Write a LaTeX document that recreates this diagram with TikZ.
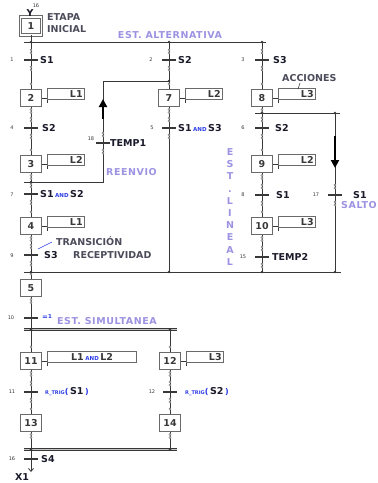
\documentclass[tikz,border=0pt]{standalone}
\usepackage{fontspec}
\setmainfont{DejaVu Sans}
\newfontfamily\lavfont[LetterSpace=6]{DejaVu Sans}
\usetikzlibrary{arrows.meta,calc}
\definecolor{ln}{HTML}{383838}
\definecolor{bx}{HTML}{6A6A6A}
\definecolor{lav}{HTML}{9C92E2}
\definecolor{andb}{HTML}{2E3EE6}
\definecolor{gtxt}{HTML}{4B4B5A}
\definecolor{tx}{HTML}{1A1A2A}
\newcommand\fL{\fontsize{9.5}{11}\selectfont\bfseries}
\newcommand\fS{\fontsize{5}{6}\selectfont}
\newcommand\andw{\,{\fontsize{5.5}{6}\selectfont\bfseries\color{andb}AND}\,}
\newcommand\rtrig[1]{{\fontsize{5}{6}\selectfont\bfseries\color{andb}R\_TRIG}{\color{andb}\fontsize{8}{8}\selectfont(}\,{\fL #1}\,{\color{andb}\fontsize{8}{8}\selectfont)}}
\newcommand\actn[4]{%
  \node[actbox, text width=#3, anchor=south west] (#2) at ($(#1.east)+(5,2)$) {#4};
  \draw[link] (#1.east) -- (#1.east -| #2.west);
  \draw[link] (#2.south west) -- ++(0,2.5);
}
\tikzset{
  stepbox/.style={draw=bx, line width=1.3pt, fill=white, minimum width=21pt, minimum height=17pt, inner sep=0pt, font=\fL, text=ln},
  initbox/.style={stepbox, double=white, double distance=1.6pt, line width=0.9pt, minimum width=21pt, minimum height=18pt},
  actbox/.style={draw=bx, line width=1pt, fill=white, minimum height=11pt, inner ysep=0pt, inner xsep=2pt, align=right, font=\fL, text=ln},
  trbar/.style={fill=ln, draw=none, minimum width=14pt, minimum height=2.4pt, inner sep=0pt},
  link/.style={draw=ln, line width=0.8pt},
  dotc/.style={draw=ln!70, fill=white, line width=0.5pt},
  jdot/.style={fill=ln, draw=none},
  lbl/.style={anchor=west, inner sep=0pt, font=\fL, text=tx},
  tnum/.style={inner sep=0pt, font=\fS, text=ln},
  note/.style={inner sep=0pt, font=\lavfont\fontsize{9.5}{11}\selectfont\bfseries, text=lav},
  gnote/.style={inner sep=0pt, anchor=west, font=\fontsize{9.5}{11}\selectfont\bfseries, text=gtxt},
  bigarrow/.style={line width=2.6pt, draw=black, -{Triangle[length=8pt,width=8pt]}},
  dline/.style={draw=ln, double=gray!45, double distance=1.6pt, line width=0.8pt},
}
\begin{document}
\begin{tikzpicture}[x=1pt,y=-1pt]
\useasboundingbox (0,0) rectangle (378,483);

% ---------- steps
\node[initbox] (s1) at (31,26) {1};
\node[stepbox] (s2) at (31,98) {2};
\node[stepbox] (s3) at (31,164) {3};
\node[stepbox] (s4) at (31,226) {4};
\node[stepbox] (s5) at (31,288) {5};
\node[stepbox] (s7) at (169,98) {7};
\node[stepbox] (s8) at (262,98) {8};
\node[stepbox] (s9) at (262,164) {9};
\node[stepbox] (s10) at (262,226) {10};
\node[stepbox] (s11) at (31,361) {11};
\node[stepbox] (s12) at (170,361) {12};
\node[stepbox] (s13) at (31,423) {13};
\node[stepbox] (s14) at (170,423) {14};

% ---------- transitions
\node[trbar] (t1) at (31,60) {};
\node[trbar] (t2) at (169,60) {};
\node[trbar] (t3) at (262,60) {};
\node[trbar] (t4) at (31,128) {};
\node[trbar] (t5) at (169,128) {};
\node[trbar] (t6) at (262,128) {};
\node[trbar] (t18) at (103,143) {};
\node[trbar] (t7) at (31,194) {};
\node[trbar] (t8) at (262,195) {};
\node[trbar] (t17) at (335,195) {};
\node[trbar] (t9) at (31,255) {};
\node[trbar] (t15) at (262,257) {};
\node[trbar] (t10) at (31,318) {};
\node[trbar] (t11) at (31,392) {};
\node[trbar] (t12) at (170,392) {};
\node[trbar] (t16) at (31,459) {};

% ---------- junction coordinates
\coordinate (a1) at (24,42); \coordinate (a2) at (266,42);
\coordinate (a1m) at (169,42); \coordinate (a1r) at (262,42);
\coordinate (r0) at (24,182); \coordinate (r1) at (103,182);
\coordinate (r2) at (103,81); \coordinate (r3) at (169,81);
\coordinate (d0) at (255,113); \coordinate (d1) at (340,113); \coordinate (d1j) at (335,113);
\coordinate (c0) at (24,272); \coordinate (c1) at (341,272);
\coordinate (cm) at (169,272); \coordinate (cr) at (262,272); \coordinate (cj) at (335,272);
\coordinate (sd0) at (24,329.5); \coordinate (sd1) at (177,329.5); \coordinate (sdr) at (170,329.5);
\coordinate (sc0) at (24,449.5); \coordinate (sc1) at (177,449.5); \coordinate (scr) at (170,449.5);
\coordinate (xend) at (31,472);
\coordinate (ar1a) at (103,119); \coordinate (ar1b) at (103,99);
\coordinate (ar2a) at (335,136); \coordinate (ar2b) at (335,168);

% ---------- links
\draw[link] (s1) -- (t1) -- (s2) -- (t4) -- (s3) -- (t7) -- (s4) -- (t9) -- (s5) -- (t10) -- (s11) -- (t11) -- (s13) -- (t16);
\draw[link] (a1) -- (a2);
\draw[link] (a1m) -- (t2) -- (s7) -- (t5) -- (cm);
\draw[link] (a1r) -- (t3) -- (s8) -- (t6) -- (s9) -- (t8) -- (s10) -- (t15) -- (cr);
\draw[link] (r0) -- (r1) -- (t18) -- (r2) -- (r3);
\draw[link] (d0) -- (d1);
\draw[link] (d1j) -- (t17) -- (cj);
\draw[link] (c0) -- (c1);
\draw[link] (sdr) -- (s12) -- (t12) -- (s14) -- (scr);
\draw[dline] (sd0) -- (sd1);
\draw[dline] (sc0) -- (sc1);
\draw[link, -{Straight Barb[length=3pt,width=5pt]}] (t16) -- (xend);
\draw[bigarrow] (ar1a) -- (ar1b);
\draw[bigarrow] (ar2a) -- (ar2b);

% ---------- small link circles
\foreach \x/\y in {31/60,169/60,262/60,31/128,169/128,262/128,103/143,31/194,262/195,335/195,31/255,262/257,31/392,170/392}
  {\foreach \d in {-10,-7,7,10} \draw[dotc] (\x,\y+\d) circle (1.1);}
\foreach \x/\y in {31/98,31/164,31/226,31/288,169/98,262/98,262/164,262/226,31/361,170/361,31/423,170/423}
  {\draw[dotc] (\x,\y-14) circle (1.1); \draw[dotc] (\x,\y+11.5) circle (1.1); \draw[dotc] (\x,\y+14.5) circle (1.1);}
\foreach \x/\y in {31/42,169/42,262/42,31/182,169/81,262/113,335/113,31/272,169/272,262/272,335/272,31/329.5,170/329.5,31/449.5,170/449.5}
  {\fill[jdot] (\x,\y) circle (1.4);}

% ---------- actions
\actn{s2}{ac2}{33pt}{L1}
\actn{s3}{ac3}{33pt}{L2}
\actn{s4}{ac4}{33pt}{L1}
\actn{s7}{ac7}{33pt}{L2}
\actn{s8}{ac8}{33pt}{L3}
\actn{s9}{ac9}{33pt}{L2}
\actn{s10}{ac10}{33pt}{L3}
\actn{s12}{ac12}{33pt}{L3}
\node[actbox, text width=85pt, align=center, anchor=south west] (ac11) at ($(s11.east)+(5,2)$) {L1\andw L2};
\draw[link] (s11.east) -- (s11.east -| ac11.west);
\draw[link] (ac11.south west) -- ++(0,2.5);

% ---------- transition numbers
\node[tnum] (n1) at (12,60) {1};
\node[tnum] (n2) at (151,60) {2};
\node[tnum] (n3) at (243,60) {3};
\node[tnum] (n4) at (12,128) {4};
\node[tnum] (n5) at (152,128) {5};
\node[tnum] (n6) at (243,128) {6};
\node[tnum] (n18) at (91,139) {18};
\node[tnum] (n7) at (12,195) {7};
\node[tnum] (n8) at (243,195) {8};
\node[tnum] (n17) at (316,195) {17};
\node[tnum] (n9) at (12,256) {9};
\node[tnum] (n15) at (243,257) {15};
\node[tnum] (n10) at (11,318) {10};
\node[tnum] (n11) at (12,392) {11};
\node[tnum] (n12) at (152,392) {12};
\node[tnum] (n16) at (12,459) {16};

% ---------- receptivities
\node[lbl] (l1) at (40,60) {S1};
\node[lbl] (l2) at (178,60) {S2};
\node[lbl] (l3) at (273,60) {S3};
\node[lbl] (l4) at (42,128) {S2};
\node[lbl] (l5) at (178,128) {S1\andw S3};
\node[lbl] (l6) at (275,128) {S2};
\node[lbl] (l18) at (110,143) {TEMP1};
\node[lbl] (l7) at (40,194) {S1\andw S2};
\node[lbl] (l8) at (276,195) {S1};
\node[lbl] (l17) at (353,195) {S1};
\node[lbl] (l9) at (44,255) {S3};
\node[lbl] (l15) at (272,257) {TEMP2};
\node[lbl, text=andb] (l10) at (42,317) {\fontsize{7}{7}\selectfont\bfseries =\raisebox{1pt}{\fontsize{5.5}{6}\selectfont 1}};
\node[lbl] (l11) at (45,392) {\rtrig{S1}};
\node[lbl] (l12) at (185,392) {\rtrig{S2}};
\node[lbl] (l16) at (41,459) {S4};
\node[lbl, anchor=center] (x1) at (22,477) {X1};
\node[lbl, anchor=center] (yin) at (30,13) {Y};
\node[tnum] (n16b) at (36,6) {16};

% ---------- annotations
\node[gnote] (etapa) at (47,17.5) {ETAPA};
\node[gnote] (inicial) at (47,29) {INICIAL};
\node[note] (alt) at (170,35) {EST. ALTERNATIVA};
\node[gnote] (acc) at (282,78) {ACCIONES};
\coordinate (pa1) at (300,83); \coordinate (pa2) at (298,89);
\draw[ln, line width=0.6pt] (pa1) -- (pa2);
\node[note, anchor=west] (reen) at (106,172) {REENVIO};
\node[gnote] (trs) at (56,241) {TRANSICIÓN};
\node[gnote] (rec) at (73,255) {RECEPTIVIDAD};
\coordinate (pt1) at (38,249); \coordinate (pt2) at (52,242);
\draw[andb, line width=0.6pt] (pt1) -- (pt2);
\node[note, anchor=west] (salto) at (341,205) {SALTO};
\node[note] (sim) at (107,321) {EST. SIMULTANEA};
\node[note, align=center, font=\lavfont\fontsize{9.5}{12.2}\selectfont\bfseries] (lineal) at (230,207)
  {E\\S\\T\\.\\L\\I\\N\\E\\A\\L};
\end{tikzpicture}
\end{document}
